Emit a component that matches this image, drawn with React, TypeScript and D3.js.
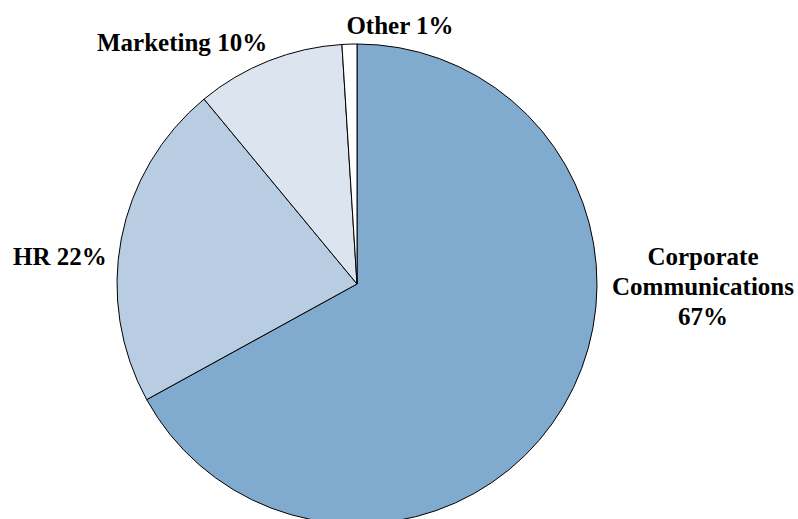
import React from "react";
import * as d3 from "d3";

const categories = ["Corporate Communications", "HR", "Marketing", "Other"];
const values = [67, 22, 10, 1];
const colors = ["#80abcf", "#b8cde2", "#dbe4ef", "#ffffff"];

const W = 798;
const H = 519;
const cx = 357;
const cy = 284;
const R = 240;

export default function App() {
  const pie = d3.pie<number>().sort(null).value((d) => d);
  const arcs = pie(values);
  const arc = d3.arc<d3.PieArcDatum<number>>().innerRadius(0).outerRadius(R);
  const textStyle = { fontFamily: '"Liberation Serif", "DejaVu Serif", Times, serif', fontWeight: 700, fontSize: "25px" };
  return (
    <svg width={W} height={H} style={{ position: "absolute", left: 0, top: 0, display: "block" }}>
      <rect width={W} height={H} fill="#fff" />
      <g transform={`translate(${cx},${cy})`}>
        {arcs.map((a, i) => (
          <path key={categories[i]} d={arc(a) || ""} fill={colors[i]} stroke="#000" strokeWidth={1} />
        ))}
      </g>
      <g style={textStyle} fill="#000">
        <text x={703} textAnchor="middle">
          <tspan x={703} y={265}>Corporate</tspan>
          <tspan x={703} y={295}>Communications</tspan>
          <tspan x={703} y={325}>{values[0]}%</tspan>
        </text>
        <text x={13} y={265}>{categories[1]} {values[1]}%</text>
        <text x={97} y={51}>{categories[2]} {values[2]}%</text>
        <text x={400} y={34} textAnchor="middle">{categories[3]} {values[3]}%</text>
      </g>
    </svg>
  );
}
